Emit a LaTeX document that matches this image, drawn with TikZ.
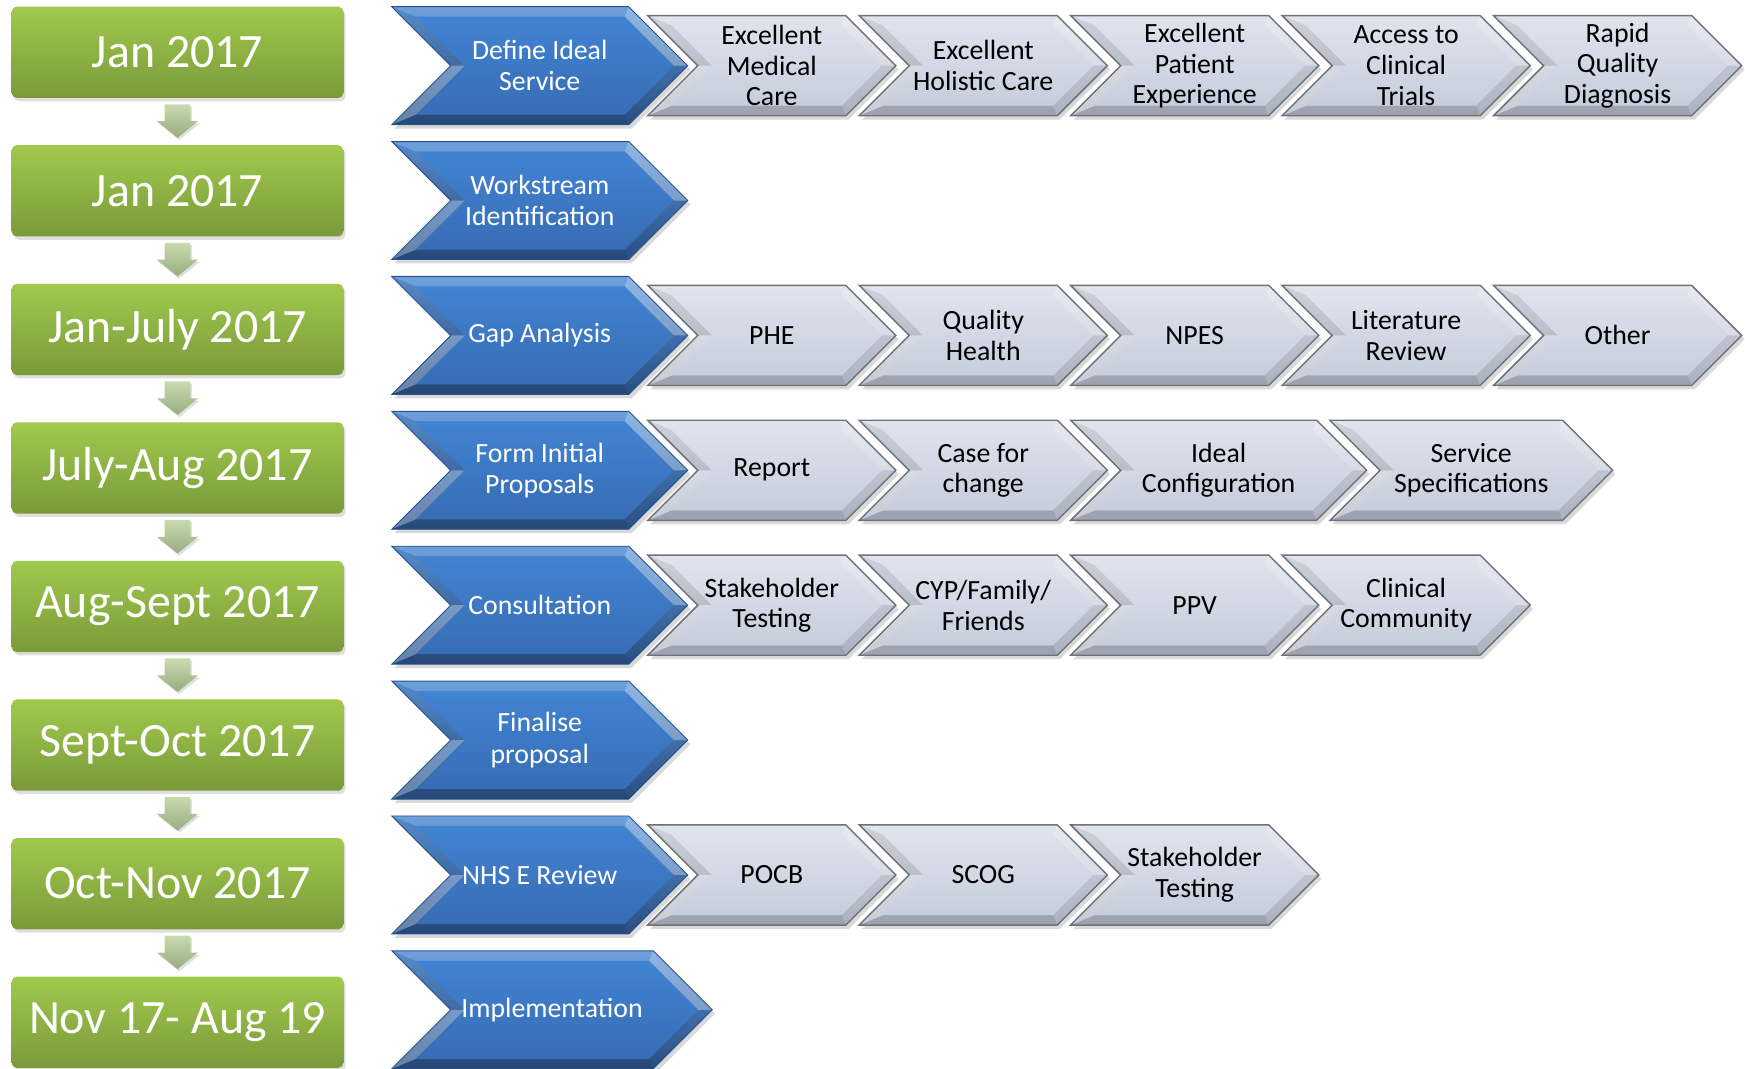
\documentclass[tikz,border=0pt]{standalone}
\usepackage{fontspec}
\setmainfont{Carlito}
\usetikzlibrary{calc,shadows}
\definecolor{gtop}{HTML}{A0C94D}
\definecolor{gbot}{HTML}{7A9A3A}
\definecolor{atop}{HTML}{C8DBAE}
\definecolor{abot}{HTML}{97AC80}
\definecolor{btop}{HTML}{4183D2}
\definecolor{bbot}{HTML}{386DB5}
\definecolor{bline}{HTML}{2A5288}
\definecolor{ctop}{HTML}{DDE2EC}
\definecolor{cbot}{HTML}{C6CDDC}
\definecolor{cline}{HTML}{6F727A}
\newcommand\cvchev[5]{%
\pgfmathsetmacro\cvL{#1}%
\pgfmathsetmacro\cvT{#2}%
\pgfmathsetmacro\cvC{#3}%
\pgfmathsetmacro\cvH{#4}%
\pgfmathsetmacro\cvB{9}%
\pgfmathsetmacro\cvS{9*1.4142}%
\pgfmathsetmacro\cvyt{\cvC-\cvH}\pgfmathsetmacro\cvyb{\cvC+\cvH}%
\pgfmathsetmacro\cvyit{\cvC-\cvH+\cvB}\pgfmathsetmacro\cvyib{\cvC+\cvH-\cvB}%
\pgfmathsetmacro\cvxtr{\cvT-\cvH}\pgfmathsetmacro\cvxn{\cvL+\cvH}%
\pgfmathsetmacro\cvxil{\cvL+\cvB+\cvS}\pgfmathsetmacro\cvxir{\cvT-\cvH+\cvB-\cvS}%
\pgfmathsetmacro\cvxit{\cvT-\cvS}\pgfmathsetmacro\cvxin{\cvL+\cvH+\cvS}%
\coordinate (O1) at (\cvL,\cvyt);\coordinate (O2) at (\cvxtr,\cvyt);
\coordinate (O3) at (\cvT,\cvC);\coordinate (O4) at (\cvxtr,\cvyb);
\coordinate (O5) at (\cvL,\cvyb);\coordinate (O6) at (\cvxn,\cvC);
\coordinate (I1) at (\cvxil,\cvyit);\coordinate (I2) at (\cvxir,\cvyit);
\coordinate (I3) at (\cvxit,\cvC);\coordinate (I4) at (\cvxir,\cvyib);
\coordinate (I5) at (\cvxil,\cvyib);\coordinate (I6) at (\cvxin,\cvC);
\path[#5outer] (O1)--(O2)--(O3)--(O4)--(O5)--(O6)--cycle;
\fill[white,opacity=0.10] (O1)--(O2)--(I2)--(I1)--cycle;
\fill[white,opacity=0.30] (O2)--(O3)--(I3)--(I2)--cycle;
\fill[black,opacity=0.04] (O3)--(O4)--(I4)--(I3)--cycle;
\fill[black,opacity=0.12] (O4)--(O5)--(I5)--(I4)--cycle;
\fill[white,opacity=0.28] (O5)--(O6)--(I6)--(I5)--cycle;
\fill[black,opacity=0.07] (O6)--(O1)--(I1)--(I6)--cycle;
\path[#5inner] (I1)--(I2)--(I3)--(I4)--(I5)--(I6)--cycle;
\draw[#5edge] (O1)--(O2)--(O3)--(O4)--(O5)--(O6)--cycle;
}
\newcommand\dnarrow[2]{%
\path let \p1=(#1.south), \p2=(#2.north) in
 [top color=atop, bottom color=abot, drop shadow={shadow xshift=1.5pt,shadow yshift=-2pt,opacity=0.25}]
 (\x1-11.5pt,\y1-5.5pt) -- (\x1+11.5pt,\y1-5.5pt) -- (\x1+11.5pt,\y1-20.7pt)
 -- (\x1+18.5pt,\y1-20.7pt) -- (\x1,\y2+6.5pt) -- (\x1-18.5pt,\y1-20.7pt)
 -- (\x1-11.5pt,\y1-20.7pt) -- cycle;}
\tikzset{
 greenbox/.style={rounded corners=4.5pt, top color=gtop, bottom color=gbot,
   minimum width=298pt, minimum height=82pt, inner sep=0pt, text=white,
   font=\fontsize{43}{48}\selectfont,
   drop shadow={shadow xshift=2pt,shadow yshift=-3pt,opacity=0.25}},
 blueouter/.style={top color=btop!85!white, bottom color=bline,
   drop shadow={shadow xshift=2.5pt,shadow yshift=-3.5pt,opacity=0.3}},
 blueinner/.style={top color=btop, bottom color=bbot},
 blueedge/.style={draw=bline, line width=0.8pt, line join=miter},
 grayouter/.style={top color=ctop, bottom color=cbot!90!black,
   drop shadow={shadow xshift=2.5pt,shadow yshift=-3.5pt,opacity=0.3}},
 grayinner/.style={top color=ctop, bottom color=cbot},
 grayedge/.style={draw=cline, line width=1.3pt, line join=miter},
 btxt/.style={text=white, align=center, font=\fontsize{25}{28}\selectfont, inner sep=0pt},
 ctxt/.style={text=black, align=center, font=\fontsize{25}{27.5}\selectfont, inner sep=0pt},
}
\begin{document}
\begin{tikzpicture}[x=1pt,y=-1pt]
\useasboundingbox (0,0) rectangle (1568,960);
% green timeline
\foreach \i/\t in {1/Jan 2017,2/Jan 2017,3/Jan-July 2017,4/July-Aug 2017,5/Aug-Sept 2017,6/Sept-Oct 2017,7/Oct-Nov 2017,8/Nov 17- Aug 19}{
  \node[greenbox] (g\i) at (159.5,{47+124.5*(\i-1)}) {\t};
}
\foreach \i [count=\j from 2] in {1,...,7}{\dnarrow{g\i}{g\j}}
% gray chevrons
\def\gw{223}
\foreach \r/\lst in {0/{582,772,962,1152,1342},2/{582,772,962,1152,1342},3/{582,772},4/{582,772,962,1152},6/{582,772,962}}{
  \foreach \l in \lst {\cvchev{\l}{\l+\gw}{59+121.2*\r}{45}{gray}}
}
\cvchev{962}{1228}{59+121.2*3}{45}{gray}
\cvchev{1195}{1449}{59+121.2*3}{45}{gray}
% blue chevrons
\foreach \r in {0,...,6}{\cvchev{352}{618}{59+121.2*\r}{53}{blue}}
\cvchev{352}{640}{59+121.2*7}{53}{blue}
% blue labels
\node[btxt] (s1) at (485,59) {Define Ideal\\Service};
\node[btxt] (s2) at (485,180.2) {Workstream\\Identification};
\node[btxt] (s3) at (485,301.4) {Gap Analysis};
\node[btxt] (s4) at (485,422.6) {Form Initial\\Proposals};
\node[btxt] (s5) at (485,543.8) {Consultation};
\node[btxt] (s6) at (485,665) {Finalise\\proposal};
\node[btxt] (s7) at (485,786.2) {NHS E Review};
\node[btxt] (s8) at (496,907.4) {Implementation};
% gray labels row 1
\node[ctxt] (a1) at (693.5,59) {Excellent\\Medical\\Care};
\node[ctxt] (a2) at (883.5,59) {Excellent\\Holistic Care};
\node[ctxt] (a3) at (1073.5,59) {Excellent\\Patient\\Experience};
\node[ctxt] (a4) at (1263.5,59) {Access to\\Clinical\\Trials};
\node[ctxt] (a5) at (1453.5,59) {Rapid\\Quality\\Diagnosis};
% row 3
\node[ctxt] (c1) at (693.5,301.4) {PHE};
\node[ctxt] (c2) at (883.5,301.4) {Quality\\Health};
\node[ctxt] (c3) at (1073.5,301.4) {NPES};
\node[ctxt] (c4) at (1263.5,301.4) {Literature\\Review};
\node[ctxt] (c5) at (1453.5,301.4) {Other};
% row 4
\node[ctxt] (d1) at (693.5,422.6) {Report};
\node[ctxt] (d2) at (883.5,422.6) {Case for\\change};
\node[ctxt] (d3) at (1095,422.6) {Ideal\\Configuration};
\node[ctxt] (d4) at (1322,422.6) {Service\\Specifications};
% row 5
\node[ctxt] (e1) at (693.5,543.8) {Stakeholder\\Testing};
\node[ctxt] (e2) at (883.5,543.8) {CYP/Family/\\Friends};
\node[ctxt] (e3) at (1073.5,543.8) {PPV};
\node[ctxt] (e4) at (1263.5,543.8) {Clinical\\Community};
% row 7
\node[ctxt] (f1) at (693.5,786.2) {POCB};
\node[ctxt] (f2) at (883.5,786.2) {SCOG};
\node[ctxt] (f3) at (1073.5,786.2) {Stakeholder\\Testing};
\end{tikzpicture}
\end{document}
